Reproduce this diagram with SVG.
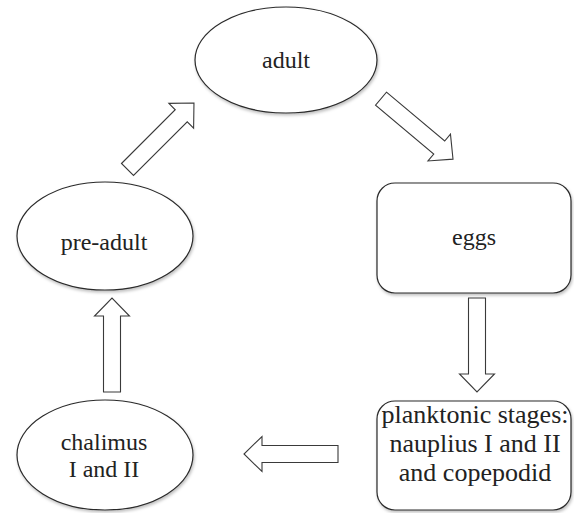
<svg xmlns="http://www.w3.org/2000/svg" xmlns:xlink="http://www.w3.org/1999/xlink" width="574" height="513" viewBox="0 0 574 513">
<style>
.node{fill:#fff;stroke:#2a2a2a;stroke-width:1.2;filter:url(#sh)}
.arrow{fill:#fff;stroke:#3a3a3a;stroke-width:1.1;stroke-linejoin:miter}
.t{font-family:"Times New Roman",Tinos,"Noto Serif","DejaVu Serif",FreeSerif,"Liberation Serif",serif;font-size:24px;fill:#222;text-anchor:middle}
.lbl2{font-size:26px}
</style>
<defs>
<filter id="sh" x="-10%" y="-10%" width="125%" height="130%">
<feDropShadow dx="1" dy="2" stdDeviation="1.5" flood-color="#000" flood-opacity="0.25"/>
</filter>
<polygon id="arr" points="0,-8.5 76,-8.5 76,-17.5 94,0 76,17.5 76,8.5 0,8.5"/>
</defs>
<rect width="574" height="513" fill="#fff"/>
<g id="connectors">
<use xlink:href="#arr" class="arrow" transform="translate(127.5,169.5) rotate(-45)"/>
<use xlink:href="#arr" class="arrow" transform="translate(381,98.7) rotate(40)"/>
<use xlink:href="#arr" class="arrow" transform="translate(477,298) rotate(90)"/>
<use xlink:href="#arr" class="arrow" transform="translate(338,454) rotate(180)"/>
<use xlink:href="#arr" class="arrow" transform="translate(112,392) rotate(-90)"/>
</g>
<g id="adult">
<ellipse class="node" cx="286" cy="60" rx="91" ry="53"/>
<text class="t" x="286" y="68">adult</text>
</g>
<g id="eggs">
<rect class="node" x="377" y="183" width="194" height="110" rx="18"/>
<text class="t" x="474" y="245">eggs</text>
</g>
<g id="planktonic">
<rect class="node" x="377" y="401" width="194" height="109" rx="18"/>
<text class="t lbl2" x="475" y="423">planktonic stages:</text>
<text class="t lbl2" x="475" y="452">nauplius I and II</text>
<text class="t lbl2" x="475" y="481">and copepodid</text>
</g>
<g id="chalimus">
<ellipse class="node" cx="105" cy="455" rx="88" ry="55"/>
<text class="t" x="104" y="450">chalimus</text>
<text class="t" x="104" y="477">I and II</text>
</g>
<g id="pre-adult">
<ellipse class="node" cx="105" cy="236" rx="88" ry="54"/>
<text class="t" x="104" y="250">pre-adult</text>
</g>
</svg>
